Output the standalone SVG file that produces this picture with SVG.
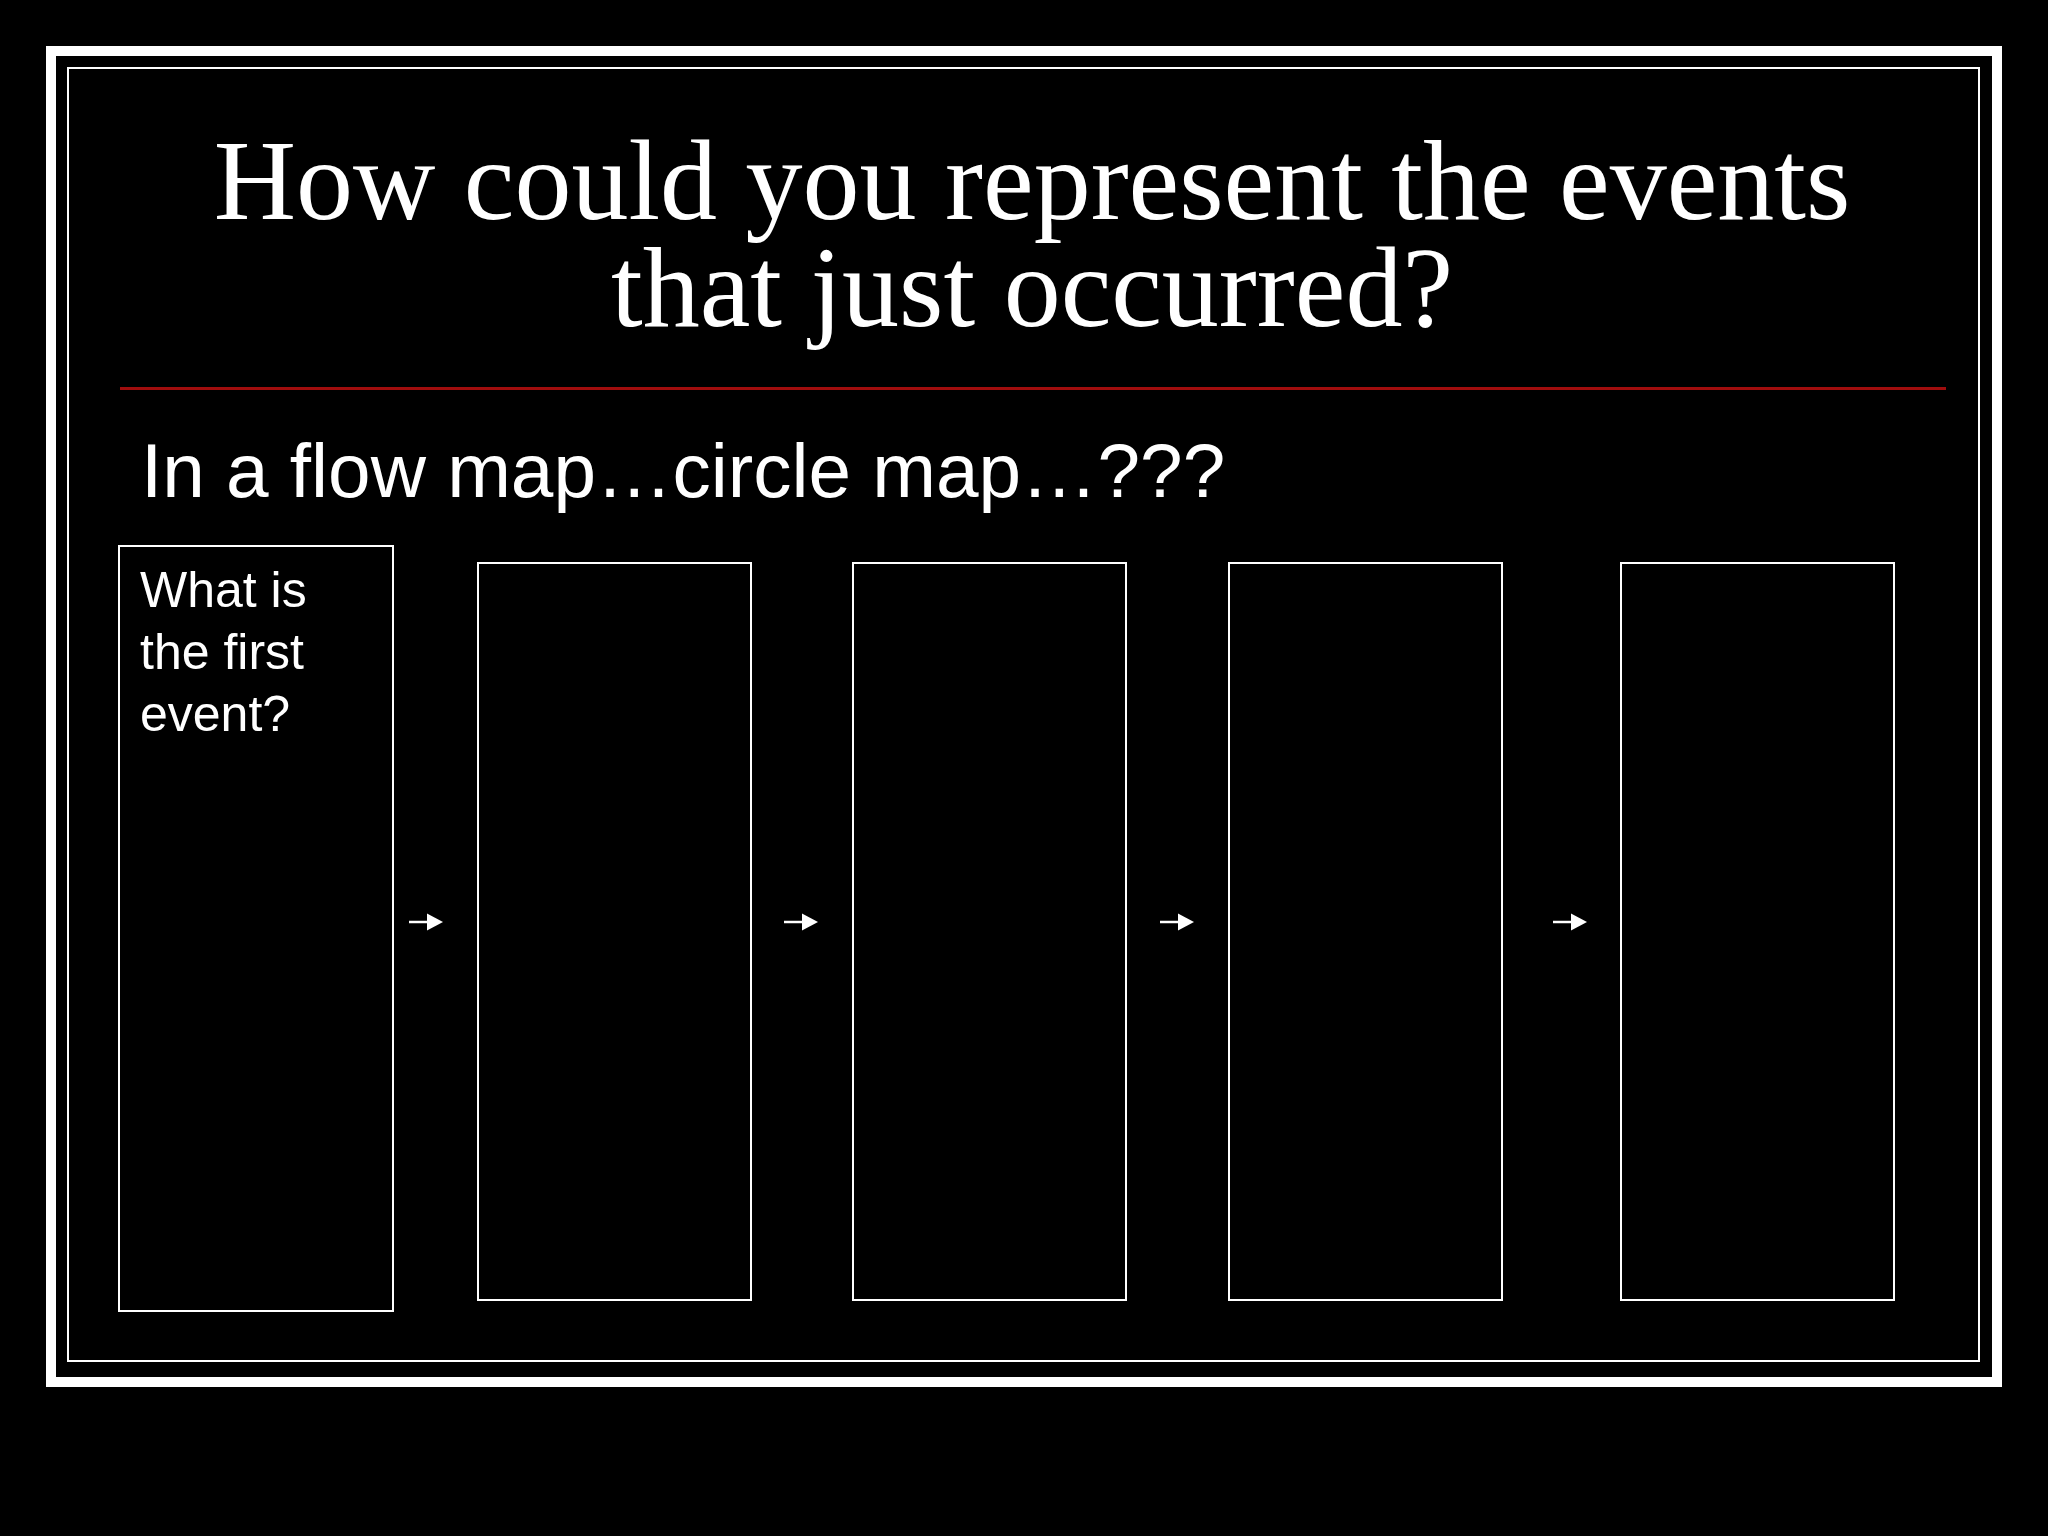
<svg xmlns="http://www.w3.org/2000/svg" width="2048" height="1536" viewBox="0 0 2048 1536">
<defs>
<style>
.box{fill:#000;stroke:#fff;stroke-width:2}
.title{font-family:"Liberation Serif","Times New Roman",serif;font-size:114px;fill:#fff;text-anchor:middle}
.sub{font-family:"Liberation Sans",Arial,sans-serif;font-size:76.5px;fill:#fff}
.lbl{font-family:"Liberation Sans",Arial,sans-serif;font-size:50px;fill:#fff}
.conn{stroke:#fff;stroke-width:2.5;fill:none}
.head{fill:#fff}
</style>
</defs>
<rect width="2048" height="1536" fill="#000"/>
<rect x="51" y="51" width="1946" height="1331" fill="none" stroke="#fff" stroke-width="10"/>
<rect x="68" y="68" width="1911" height="1293" fill="none" stroke="#fff" stroke-width="2"/>
<text class="title"><tspan x="1032" y="219">How could you represent the events</tspan><tspan x="1032" y="326">that just occurred?</tspan></text>
<line x1="120" y1="388.5" x2="1946" y2="388.5" stroke="#a00d0d" stroke-width="3"/>
<text class="sub" x="141" y="497">In a flow map…circle map…???</text>
<g id="node1">
<rect class="box" x="119" y="546" width="274" height="765"/>
<text class="lbl"><tspan x="140" y="607">What is</tspan><tspan x="140" y="669">the first</tspan><tspan x="140" y="731">event?</tspan></text>
</g>
<g id="node2"><rect class="box" x="478" y="563" width="273" height="737"/></g>
<g id="node3"><rect class="box" x="853" y="563" width="273" height="737"/></g>
<g id="node4"><rect class="box" x="1229" y="563" width="273" height="737"/></g>
<g id="node5"><rect class="box" x="1621" y="563" width="273" height="737"/></g>
<g id="connectors">
<line class="conn" x1="409" y1="922" x2="428" y2="922"/>
<polygon class="head" points="427,913.5 443,922 427,930.5"/>
<line class="conn" x1="784" y1="922" x2="803" y2="922"/>
<polygon class="head" points="802,913.5 818,922 802,930.5"/>
<line class="conn" x1="1160" y1="922" x2="1179" y2="922"/>
<polygon class="head" points="1178,913.5 1194,922 1178,930.5"/>
<line class="conn" x1="1553" y1="922" x2="1572" y2="922"/>
<polygon class="head" points="1571,913.5 1587,922 1571,930.5"/>
</g>
</svg>
